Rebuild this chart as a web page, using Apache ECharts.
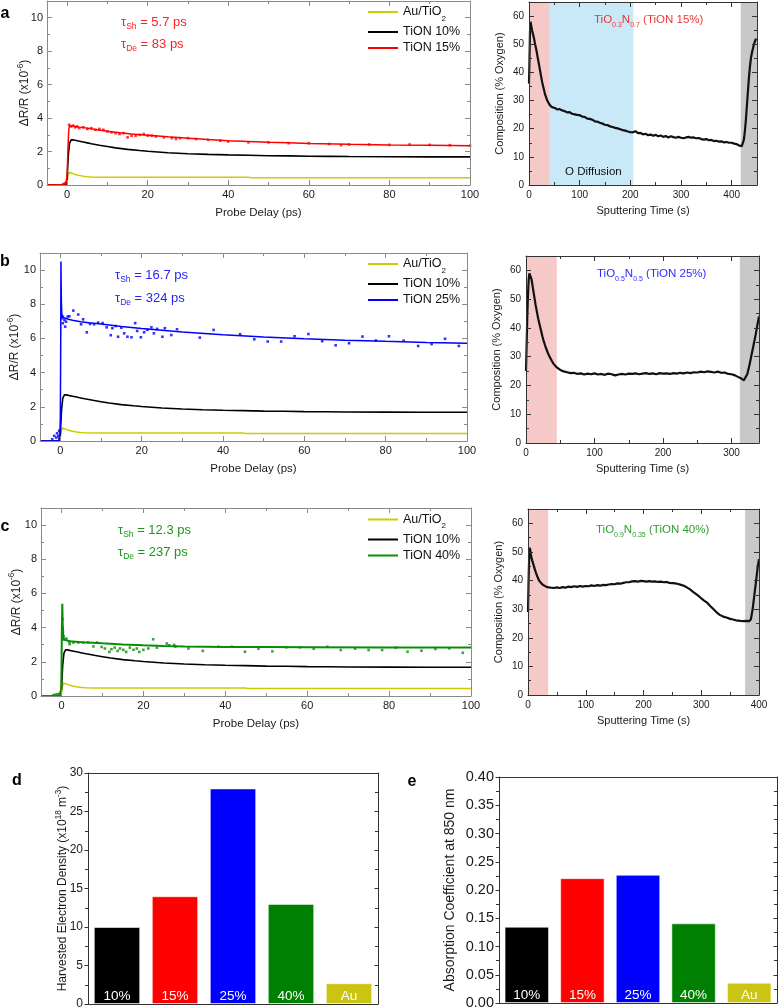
<!DOCTYPE html>
<html><head><meta charset="utf-8">
<script src="https://cdn.jsdelivr.net/npm/echarts@6/dist/echarts.min.js"></script>
<style>html,body{margin:0;padding:0;background:#fff}#c{width:778px;height:1008px}</style>
</head><body><div id="c"></div>
<script>
// ================= DATA =================
// Panels a-c (left): transient reflectivity, x = probe delay (ps), y = dR/R (x1e-6)
const auTiO2 = [[-5,0],[-1,0],[-0.3,0.02],[0,0.15],[0.2,0.55],[0.5,0.76],[1,0.72],[1.5,0.68],[2,0.63],[3,0.57],[4,0.53],[5,0.5],[6,0.48],[8,0.47],[15,0.47],[25,0.47],[35,0.47],[45,0.47],[45.5,0.44],[60,0.44],[80,0.44],[100,0.44]];
const tion10 = [[-5,0],[-1,0],[-0.3,0.03],[0,0.4],[0.3,1.8],[0.6,2.5],[1,2.7],[1.5,2.7],[2,2.67],[3,2.62],[4,2.57],[5,2.52],[6,2.47],[8,2.38],[10,2.3],[12,2.22],[15,2.13],[18,2.06],[20,2.02],[25,1.93],[30,1.87],[35,1.83],[40,1.8],[45,1.78],[50,1.75],[55,1.74],[60,1.72],[65,1.71],[70,1.7],[80,1.69],[90,1.68],[100,1.68]];
const tion15Fit = [[-5,0],[-1,0.02],[-0.3,0.1],[0,0.6],[0.2,2.2],[0.4,3.3],[0.6,3.55],[1,3.55],[2,3.5],[3,3.46],[5,3.4],[7,3.32],[10,3.22],[13,3.12],[16,3.05],[20,2.98],[25,2.88],[30,2.8],[35,2.72],[40,2.65],[45,2.6],[50,2.55],[55,2.52],[60,2.48],[70,2.43],[80,2.39],[90,2.37],[100,2.35]];
const tion15Pts = [[-1,0.05],[-0.5,0.1],[0.5,3.6],[1,3.5],[1.5,3.55],[2,3.45],[2.5,3.5],[3,3.4],[4,3.45],[5,3.35],[6,3.4],[7,3.3],[8,3.35],[9,3.3],[10,3.2],[11,3.15],[12,3.1],[13,3.05],[14,3.1],[15,2.85],[16,2.95],[17,2.95],[18,3.0],[19,3.05],[20,2.95],[21,2.95],[22,2.9],[24,2.85],[26,2.8],[27,2.75],[28,2.8],[30,2.8],[32,2.75],[35,2.7],[38,2.65],[40,2.6],[45,2.55],[50,2.55],[55,2.5],[60,2.5],[65,2.45],[68,2.38],[70,2.42],[75,2.42],[80,2.4],[85,2.42],[90,2.4],[95,2.38],[100,2.35]];
const tion25Fit = [[-5,0],[-0.3,0],[-0.1,0.3],[0,1.5],[0.1,6],[0.15,10.5],[0.2,9.2],[0.25,8.2],[0.35,7.5],[0.5,7.25],[1,7.2],[2,7.12],[3,7.07],[5,6.98],[7,6.92],[10,6.84],[15,6.7],[20,6.58],[25,6.48],[30,6.38],[40,6.22],[50,6.09],[60,5.98],[70,5.9],[80,5.83],[90,5.77],[100,5.72]];
const tion25Pts = [[-2,0.1],[-1.5,0.3],[-1,0.2],[-0.8,0.45],[-0.5,0.3],[-0.3,0.6],[-0.2,0.2],[0.4,7.18],[0.65,7.28],[1,7.08],[1.4,6.98],[1.8,7.28],[1.2,6.69],[0.6,6.89],[2.2,7.3],[3.2,7.63],[4.4,7.4],[5.6,7.12],[6.5,6.36],[5.1,6.83],[7.3,6.85],[8.3,6.83],[9.3,6.93],[10.4,6.9],[11.4,6.65],[12.4,6.19],[12.8,6.6],[13.6,6.73],[14.2,6.1],[15,6.63],[15.7,6.3],[16.5,6.1],[17.5,6.07],[18.4,6.9],[18.9,6.44],[19.8,6.07],[20.6,6.36],[21.4,6.5],[22.4,6.65],[23,6.3],[23.8,6.56],[25.1,6.1],[25.7,6.6],[27.3,6.2],[28.7,6.54],[34.3,6.05],[37.7,6.5],[44.2,6.25],[47.7,5.95],[51,5.82],[54.3,5.82],[57.6,6.13],[61,6.26],[64.4,5.84],[67.7,5.6],[71,5.72],[74.3,6.11],[77.6,5.88],[80.8,6.13],[84.4,5.87],[88,5.56],[91.3,5.67],[94.6,5.98],[98,5.56]];
const tion40Fit = [[-5,0],[-0.3,0],[-0.1,0.2],[0,1.5],[0.1,4],[0.2,5.4],[0.3,4.2],[0.4,3.6],[0.6,3.3],[1,3.22],[2,3.2],[5,3.15],[10,3.08],[15,3.02],[20,2.97],[25,2.93],[30,2.9],[40,2.87],[50,2.86],[60,2.85],[80,2.84],[100,2.84]];
const tion40Pts = [[-2,0.05],[-1.5,0.08],[-1,0.1],[-0.5,0.12],[-0.3,0.2],[0.25,4.5],[0.3,4.0],[0.35,3.8],[0.5,3.5],[0.6,3.3],[1.2,3.36],[1.9,3.17],[2,3.03],[2.9,3.13],[4.1,3.13],[5.3,3.13],[6.5,3.13],[7.8,2.9],[8.7,3.13],[9.8,2.87],[10.6,2.78],[11.7,2.58],[12.2,2.74],[13,2.83],[13.7,2.64],[14.3,2.78],[15.1,2.7],[15.8,2.58],[16.7,2.83],[17.6,2.7],[18.4,2.78],[19,2.58],[20,2.7],[21.2,2.78],[22.4,3.32],[23.3,2.83],[25.7,3.07],[26.3,2.97],[27.5,2.99],[27.8,2.89],[31,2.78],[34.5,2.64],[38.3,2.88],[41.6,2.88],[44.8,2.59],[48.1,2.77],[51.5,2.61],[54.9,2.85],[58.2,2.85],[61.6,2.77],[64.9,2.88],[68.2,2.69],[71.7,2.77],[75,2.69],[78.3,2.69],[81.6,2.83],[84.5,2.59],[87.9,2.65],[91.3,2.75],[94.7,2.79],[98,2.53]];

// Right panels: XPS depth profiles, x = sputtering time (s), y = composition (% oxygen)
const comp15 = [[0,36],[1,45],[2,55],[3,58],[4,57.5],[5,56],[6,55],[8,53.5],[10,52],[12,50],[14,48.5],[16,46.5],[18,44.5],[20,42.5],[22,40.5],[24,38.5],[26,36.5],[28,35],[30,33.5],[32,32],[34,31],[36,30],[38,29.3],[40,28.7],[42,28.2],[44,27.8],[48,27.5],[52,27.3],[56,26.8],[60,27],[65,26.5],[70,26.3],[75,25.8],[80,25.9],[85,25.3],[90,25.1],[95,24.9],[100,24.8],[105,24.3],[110,24.2],[115,23.6],[120,23.5],[125,23.2],[130,22.6],[135,22.5],[140,22.1],[145,21.8],[150,21.4],[155,21.3],[160,20.8],[165,20.6],[170,20.3],[175,20.1],[180,19.8],[185,19.5],[190,19.3],[195,19],[200,18.8],[205,18.7],[210,19.1],[215,18.4],[220,18.5],[225,18.0],[230,18.2],[235,17.7],[240,17.9],[245,17.5],[250,17.8],[255,17.3],[260,17.6],[265,17.1],[270,17.4],[275,16.9],[280,17.3],[285,17.0],[290,16.8],[295,17.1],[300,16.8],[305,16.6],[310,16.9],[315,17.1],[320,16.8],[325,16.9],[330,16.6],[335,16.7],[340,16.3],[345,16.1],[350,16.3],[355,15.9],[360,16.0],[365,15.6],[370,15.7],[375,15.4],[380,15.5],[385,15.1],[390,15.3],[395,15.0],[400,15.0],[405,14.7],[410,14.5],[415,14.0],[418,13.6],[420,13.8],[422,14.5],[424,16],[426,19],[428,23],[430,28],[432,33],[434,38],[436,42],[438,45],[440,47],[442,48.5],[444,50],[446,51],[448,52]];
const comp25 = [[0,25],[1,35],[2,45],[3,52],[4,57],[5,59],[6,59.5],[7,58.5],[8,57],[10,54],[12,51],[14,48],[16,45.5],[18,43],[20,41],[22,39],[24,37],[26,35.3],[28,33.8],[30,32.5],[32,31.2],[34,30.2],[36,29.3],[38,28.4],[40,27.6],[42,27],[44,26.5],[46,26],[50,25.4],[55,24.9],[60,24.6],[65,24.3],[70,24.4],[75,24.0],[80,24.2],[85,23.8],[90,24.1],[95,23.9],[100,24.2],[105,23.8],[110,24.0],[115,23.7],[120,24.1],[125,23.9],[130,23.5],[135,23.8],[140,24.0],[145,23.8],[150,24.1],[155,24.0],[160,24.2],[165,23.9],[170,24.1],[175,24.3],[180,24.0],[185,24.2],[190,23.9],[195,24.3],[200,24.1],[205,24.2],[210,24.0],[215,24.3],[220,24.1],[225,24.4],[230,24.2],[235,24.5],[240,24.3],[245,24.6],[250,24.5],[255,24.8],[260,24.6],[265,24.9],[270,24.7],[275,24.5],[280,24.8],[285,24.4],[290,24.5],[295,24.0],[300,23.9],[305,23.5],[310,22.9],[315,22.3],[318,21.8],[320,22.2],[323,24],[326,27],[329,30.5],[332,34],[335,37.5],[338,41.5],[340,44]];
const comp40 = [[0,29],[1,40],[2,48],[3,51.5],[4,50.5],[5,49],[6,48],[8,46.5],[10,45.2],[12,43.8],[14,42.6],[16,41.5],[18,40.5],[20,39.8],[22,39.2],[25,38.6],[28,38.2],[32,37.8],[36,37.6],[40,37.5],[45,37.4],[50,37.6],[55,37.4],[60,37.7],[65,37.5],[70,37.9],[75,37.7],[80,38.0],[85,37.8],[90,38.1],[95,37.9],[100,38.1],[105,38.0],[110,38.3],[115,38.1],[120,38.4],[125,38.2],[130,38.5],[135,38.4],[140,38.6],[145,38.8],[150,38.7],[155,39.0],[160,38.9],[165,39.2],[170,39.4],[175,39.4],[180,39.7],[185,39.8],[190,39.6],[195,39.9],[200,39.8],[205,39.6],[210,39.8],[215,39.6],[220,39.7],[225,39.5],[230,39.6],[235,39.4],[240,39.5],[245,39.2],[250,39.1],[255,39.0],[260,38.8],[265,38.5],[270,38.2],[275,37.6],[280,37.0],[287,35.9],[293,35.0],[300,33.8],[305,33.0],[310,32.3],[315,31.2],[320,30.2],[327,28.8],[332,28.0],[338,27.4],[345,27.0],[350,26.6],[355,26.4],[360,26.1],[368,25.9],[373,25.8],[378,25.9],[383,25.8],[386,26.5],[389,30],[392,35],[395,40],[398,45],[400,47.5]];

// shaded depth regions [start, end] in sputtering time (s)
const shade15 = {surface:[0,41], diffusion:[41,206], substrate:[418,450]};
const shade25 = {surface:[0,45], substrate:[312,340]};
const shade40 = {surface:[0,35], substrate:[376,400]};

// Panels d, e: bar charts
const barCategories = ['10%','15%','25%','40%','Au'];
const electronDensity = [10, 14, 28, 13, 2.7];
const absorption850 = [0.135, 0.221, 0.227, 0.141, 0.036];
const barColors = ['#000000','#ff0000','#0000ff','#008000','#cbc413'];

// ================= CHART =================
const FF = '"Liberation Sans", Arial, Helvetica, sans-serif';
const C = {au:'#cccc00', t10:'#000000', t15:'#ff0000', t25:'#0000ff', t40:'#0a8c0a'};

const gridsPx = [
  {left:47, top:1, width:423, height:184},
  {left:529, top:2, width:228, height:183},
  {left:40, top:253, width:427, height:188},
  {left:526, top:256, width:233, height:187},
  {left:41, top:508, width:430, height:188},
  {left:528, top:509, width:231, height:186},
  {left:88, top:773, width:290, height:231},
  {left:499, top:777, width:278, height:226}
];

function mkAxis(gi, pos, o, main) {
  const cat = o.type === 'category';
  const inside = main ? !o.tickOut : true;
  const ns = o.nameSize || 11;
  const isY = pos === 'left' || pos === 'right';
  return {
    type: cat ? 'category' : 'value', gridIndex: gi, position: pos, z: 5,
    data: cat ? o.data : undefined,
    min: o.min, max: o.max, interval: o.interval, splitNumber: o.splitNumber,
    minInterval: o.minInterval, maxInterval: o.maxInterval,
    axisLine: {show: true, onZero: false, lineStyle: {color: o.color, width: 1}},
    axisTick: {show: !cat, inside: inside, length: o.tickLen || 5, lineStyle: {color: o.color, width: 1}},
    minorTick: {show: !cat, splitNumber: 2, length: 3, lineStyle: {color: o.color, width: 1}},
    splitLine: {show: false}, minorSplitLine: {show: false},
    axisLabel: {show: main && !cat, color: '#1a1a1a', fontSize: o.labelSize, fontFamily: FF, margin: o.margin,
      showMinLabel: o.hideMin ? false : null, showMaxLabel: o.hideMax ? false : null, formatter: o.fmt},
    name: main ? o.name : '', nameLocation: 'middle', nameGap: o.nameGap,
    nameMoveOverlap: isY ? false : undefined,
    nameTextStyle: {fontSize: ns, fontFamily: FF, color: '#1a1a1a', lineHeight: o.rich ? ns + 5 : ns + 2,
      rich: {sup: {fontSize: ns * 0.68, fontFamily: FF, color: '#1a1a1a', verticalAlign: 'top', lineHeight: ns * 0.6}}}
  };
}

const delayX = {min:-5, max:100, splitNumber:5, minInterval:20, maxInterval:20, color:'#8a8a8a', labelSize:11, margin:4, hideMin:true, name:'Probe Delay (ps)', nameGap:21, nameSize:11.5};
const drY = g => ({min:0, max:11, interval:2, color:'#8a8a8a', labelSize:11, margin:4, hideMax:true, rich:true, name:'ΔR/R (x10{sup|-6})', nameGap:g, nameSize:12});
const sputX = m => ({min:0, max:m, interval:100, color:'#333', labelSize:10, margin:5, hideMax: m % 100 !== 0, name:'Sputtering Time (s)', nameGap:19, nameSize:11});
const compY = {min:0, max:65, interval:10, color:'#333', labelSize:10, margin:5, hideMax:true, name:'Composition (% Oxygen)', nameGap:23, nameSize:11};
const barX = {type:'category', data:barCategories, color:'#333'};
const dY = {min:0, max:30, interval:5, color:'#333', labelSize:12, margin:5, tickOut:true, tickLen:3.5, rich:true, name:'Harvested Electron Density (x10{sup|18} m{sup|-3})', nameGap:16.5, nameSize:12};
const eY = {min:0, max:0.4, interval:0.05, color:'#333', labelSize:14.5, margin:5, tickOut:true, tickLen:3.5, fmt: v => v.toFixed(2), name:'Absorption Coefficient at 850 nm', nameGap:41, nameSize:14};

const specs = [
  [delayX, drY(13.5)], [sputX(450), compY],
  [delayX, drY(16.5)], [sputX(340), compY],
  [delayX, drY(16)], [sputX(400), compY],
  [barX, dY], [barX, eY]
];
const xAxes = [], yAxes = [];
specs.forEach((s, gi) => {
  xAxes.push(mkAxis(gi, 'bottom', s[0], true));
  xAxes.push(mkAxis(gi, 'top', s[0], false));
  yAxes.push(mkAxis(gi, 'left', s[1], true));
  yAxes.push(mkAxis(gi, 'right', s[1], false));
});

function line(gi, name, data, color, width) {
  return {type:'line', name, data, xAxisIndex: gi*2, yAxisIndex: gi*2, showSymbol:false, symbol:'none',
    lineStyle:{color, width}, itemStyle:{color}, z:3, clip:true, silent:true};
}
function pts(gi, data, color) {
  return {type:'scatter', name:'pts'+gi, data, xAxisIndex: gi*2, yAxisIndex: gi*2, symbol:'rect', symbolSize:2.6,
    itemStyle:{color}, z:4, clip:true, silent:true};
}
function shades(gi, sh) {
  const cols = {surface:'#f6c9c9', diffusion:'#c9e8f8', substrate:'#c8c8c8'};
  return {type:'line', name:'shade'+gi, data:[], xAxisIndex: gi*2, yAxisIndex: gi*2, z:1, silent:true,
    markArea:{silent:true, label:{show:false},
      data: Object.keys(sh).map(k => [{xAxis: sh[k][0], itemStyle:{color: cols[k], opacity:1}}, {xAxis: sh[k][1]}])}};
}
function bars(gi, vals) {
  return {type:'bar', name:'bars'+gi, xAxisIndex: gi*2, yAxisIndex: gi*2, barWidth:'80%', silent:true,
    data: vals.map((v, i) => ({value: v, itemStyle:{color: barColors[i], borderColor:'rgba(255,255,255,0.55)', borderWidth:1}})),
    label:{show:true, position:'insideBottom', distance:1, color:'#fff', fontSize:13.5, fontFamily:FF,
      formatter: p => barCategories[p.dataIndex]}};
}

const series = [
  line(0,'Au/TiO2',auTiO2,C.au,1.5), line(0,'TiON 10%',tion10,C.t10,1.6), line(0,'TiON 15%',tion15Fit,C.t15,1.5), pts(0,tion15Pts,C.t15),
  shades(1, shade15), line(1,'comp15',comp15,'#111',2.2),
  line(2,'Au/TiO2',auTiO2,C.au,1.5), line(2,'TiON 10%',tion10,C.t10,1.6), line(2,'TiON 25%',tion25Fit,C.t25,1.5), pts(2,tion25Pts,C.t25),
  shades(3, shade25), line(3,'comp25',comp25,'#111',2.2),
  line(4,'Au/TiO2',auTiO2,C.au,1.5), line(4,'TiON 10%',tion10,C.t10,1.6), line(4,'TiON 40%',tion40Fit,C.t40,2), pts(4,tion40Pts,C.t40),
  shades(5, shade40), line(5,'comp40',comp40,'#111',2.2),
  bars(6, electronDensity), bars(7, absorption850)
];

const legBase = {orient:'vertical', icon:'rect', itemWidth:30, itemHeight:2, itemGap:3, padding:0, selectedMode:false, left:368,
  textStyle:{fontSize:12.5, fontFamily:FF, color:'#111', lineHeight:13,
    rich:{b:{fontSize:12.5, fontFamily:FF, color:'#111', lineHeight:21},
          sub:{fontSize:8, fontFamily:FF, color:'#111', verticalAlign:'bottom', lineHeight:7}}},
  formatter: n => n === 'Au/TiO2' ? '{b|Au/TiO}{sub|2}' : n};
const legends = [
  Object.assign({}, legBase, {top:1.5, data:['Au/TiO2','TiON 10%','TiON 15%']}),
  Object.assign({}, legBase, {top:253.5, data:['Au/TiO2','TiON 10%','TiON 25%']}),
  Object.assign({}, legBase, {top:509, data:['Au/TiO2','TiON 10%','TiON 40%']})
];

function richText(x, y, str, color, big, small) {
  return {type:'text', x, y, z:50, silent:true, style:{text:str, verticalAlign:'middle', align:'left',
    rich:{b:{fontSize:big, fontFamily:FF, fill:color, lineHeight: big + 6},
          s:{fontSize:small, fontFamily:FF, fill:color, verticalAlign:'bottom', lineHeight: small}}}};
}
function letter(x, y, t) {
  return {type:'text', x, y, z:50, silent:true, style:{text:t, font:'bold 16px '+FF, fill:'#000', align:'center', verticalAlign:'middle'}};
}
const graphics = [
  letter(5,14,'a'), letter(5,262,'b'), letter(5,527,'c'), letter(17,781,'d'), letter(412,782,'e'),
  richText(121,22,'{b|τ}{s|Sh}{b| = 5.7 ps}','#ff2020',13,8.5),
  richText(121,44,'{b|τ}{s|De}{b| = 83 ps}','#ff2020',13,8.5),
  richText(115,275,'{b|τ}{s|Sh}{b| = 16.7 ps}','#2424ff',13,8.5),
  richText(115,298,'{b|τ}{s|De}{b| = 324 ps}','#2424ff',13,8.5),
  richText(118,530,'{b|τ}{s|Sh}{b| = 12.3 ps}','#1c961c',13,8.5),
  richText(118,552,'{b|τ}{s|De}{b| = 237 ps}','#1c961c',13,8.5),
  richText(594,20,'{b|TiO}{s|0.3}{b|N}{s|0.7}{b| (TiON 15%)}','#f03535',11.5,7),
  richText(597,274,'{b|TiO}{s|0.5}{b|N}{s|0.5}{b| (TiON 25%)}','#2a2aff',11.5,7),
  richText(596,530,'{b|TiO}{s|0.9}{b|N}{s|0.35}{b| (TiON 40%)}','#2e9e2e',11.5,7),
  {type:'text', x:565, y:172, z:50, silent:true, style:{text:'O Diffusion', font:'11.5px '+FF, fill:'#111', verticalAlign:'middle'}}
];

const chart = echarts.init(document.getElementById('c'), null, {renderer:'canvas'});
chart.setOption({
  animation:false, backgroundColor:'#fff',
  textStyle:{fontFamily:FF},
  grid: gridsPx.map(g => Object.assign({containLabel:false, outerBoundsMode:'none', show:false}, g)),
  xAxis: xAxes, yAxis: yAxes, legend: legends, series, graphic: graphics
});
</script></body></html>
